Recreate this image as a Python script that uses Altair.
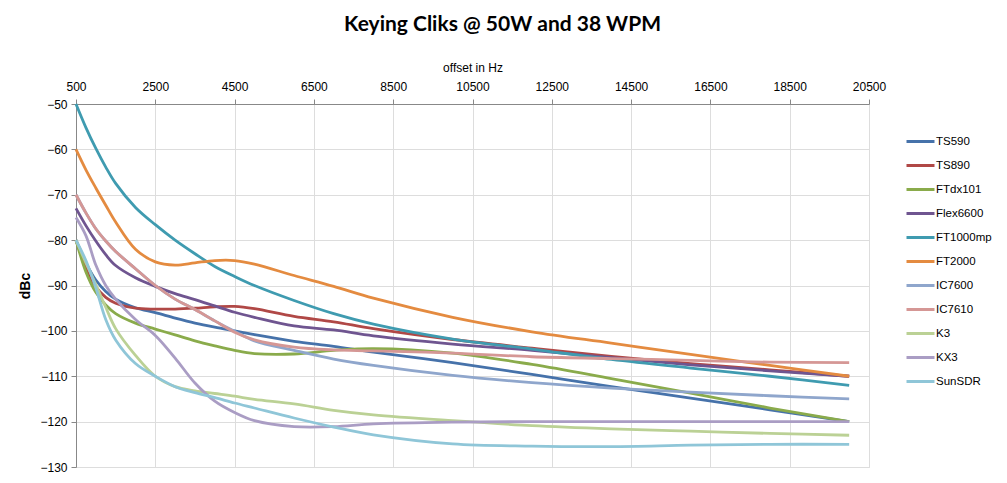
import altair as alt
import pandas as pd

series = ["TS590", "TS890", "FTdx101", "Flex6600", "FT1000mp", "FT2000",
          "IC7600", "IC7610", "K3", "KX3", "SunSDR"]
colors = ["#4672AA", "#B04846", "#8AAB4B", "#6F5590", "#3F9BB0", "#E48B40",
          "#8FA6CC", "#D59795", "#BBD195", "#AA9DC4", "#8FC6D8"]

offsets = [500, 750, 1000, 1250, 1500, 2000, 2500, 3000, 3500, 4000, 4500, 5000,
           6000, 7000, 8000, 10000, 12000, 14000, 16000, 18000, 20000]

TS590 = [-80, -85, -88.8, -91.3, -93, -94.9, -96, -97.2, -98.3, -99.2, -100, -100.8,
         -102.3, -103.4, -104.7, -107, -109.6, -112.3, -114.8, -117.4, -120]
TS890 = [-80, -86, -90.3, -92.6, -93.9, -95, -95.2, -95.2, -95, -94.7, -94.6, -95.1,
         -96.8, -98, -99.5, -101.9, -103.8, -105.6, -107.2, -108.6, -110]
FTdx101 = [-80, -87, -91.5, -94.3, -96.2, -98.3, -99.6, -100.9, -102.2, -103.3, -104.3, -105,
           -105.1, -104.3, -103.9, -104.9, -107.4, -110.5, -113.7, -117, -120]
Flex6600 = [-73, -76.8, -80.2, -83.2, -85.6, -88.3, -90.2, -91.8, -93.1, -94.5, -95.9, -97,
            -98.9, -99.8, -101.1, -102.9, -104.3, -105.9, -107.5, -108.8, -110]
FT1000mp = [-50, -55.2, -59.8, -63.9, -67.5, -72.8, -76.6, -80, -83, -85.8, -88, -90,
            -93.3, -96.2, -98.5, -101.8, -104, -106.3, -108.2, -110, -112]
FT2000 = [-60, -64.5, -68.5, -72.3, -76, -82, -84.8, -85.5, -85, -84.5, -84.5, -85.3,
          -87.8, -90.2, -92.8, -97, -100.2, -102.7, -105.2, -107.6, -110]
IC7600 = [-70, -74, -77.5, -80.2, -82.5, -86.3, -90, -93, -95.3, -97.8, -100.1, -102.2,
          -104.3, -106.2, -107.6, -109.8, -111.4, -112.6, -113.5, -114.3, -115]
IC7610 = [-70, -74, -77.5, -80.2, -82.5, -86.3, -90, -93, -95.3, -97.8, -100.3, -102,
          -103.6, -104.2, -104.4, -104.9, -105.7, -106.1, -106.5, -106.9, -107]
K3 = [-80, -85, -89.8, -94.8, -99.5, -105.4, -110, -112.3, -113.2, -113.8, -114.4, -115.1,
      -116.1, -117.5, -118.5, -119.8, -120.9, -121.6, -122.1, -122.6, -123]
KX3 = [-75, -79, -85.5, -90, -93, -97.5, -101, -106, -111.5, -115.5, -118, -119.8,
       -121.1, -121.1, -120.5, -120.1, -120, -120, -120, -120, -120]
SunSDR = [-80, -84.5, -90.5, -97.5, -102, -107.2, -110, -112.3, -113.6, -114.7, -115.9, -117,
          -119.2, -121.2, -122.9, -124.9, -125.4, -125.5, -125.2, -125, -125]

x_ticks = [500, 2500, 4500, 6500, 8500, 10500, 12500, 14500, 16500, 18500, 20500]
y_ticks = [-50, -60, -70, -80, -90, -100, -110, -120, -130]

values = [TS590, TS890, FTdx101, Flex6600, FT1000mp, FT2000,
          IC7600, IC7610, K3, KX3, SunSDR]
rows = []
for i, (name, vals) in enumerate(zip(series, values)):
    for hz, db in zip(offsets, vals):
        rows.append({"series": name, "order": i, "hz": hz, "db": db})
df = pd.DataFrame(rows)

FONT = "Lato"
GRID = "#7F7F7F"

chart = alt.Chart(df).mark_line(
    interpolate="catmull-rom", strokeWidth=2.8
).encode(
    x=alt.X("hz:Q",
            scale=alt.Scale(domain=[500, 20500], nice=False, zero=False),
            axis=alt.Axis(orient="top", values=x_ticks, title="offset in Hz",
                          format="d", labelFontSize=12, titleFontSize=12,
                          titleFontWeight="normal", titlePadding=6,
                          labelPadding=6, tickSize=5, grid=True,
                          labelFlush=False)),
    y=alt.Y("db:Q",
            scale=alt.Scale(domain=[-130, -50], nice=False, zero=False),
            axis=alt.Axis(values=y_ticks, title="dBc", labelFontSize=12,
                          titleFontSize=14, titleFontWeight="bold",
                          titlePadding=7, labelPadding=4, tickSize=5, grid=True,
                          labelFlush=False)),
    color=alt.Color("series:N",
                    scale=alt.Scale(domain=series, range=colors),
                    sort=series,
                    legend=alt.Legend(title=None, orient="none",
                                      legendX=829, legendY=22,
                                      symbolType="stroke", symbolSize=784,
                                      symbolStrokeWidth=3, labelFontSize=11.5,
                                      labelOffset=0, rowPadding=2, padding=0)),
    detail="series:N",
    order="order:Q",
).properties(
    width=793, height=363,
    title=alt.Title("Keying Cliks @ 50W and 38 WPM", fontSize=21,
                    fontWeight="bold", font=FONT, anchor="middle",
                    dx=30, offset=26, color="black"),
    padding={"left": 68, "top": 96, "right": 130, "bottom": 8},
    autosize=alt.AutoSizeParams(type="none"),
).configure_axis(
    gridColor=GRID, gridWidth=1, gridOpacity=1,
    domainColor=GRID, domainWidth=1, tickColor=GRID, tickWidth=1,
    labelFont=FONT, titleFont=FONT, labelColor="black", titleColor="black",
).configure_legend(
    labelFont=FONT, labelColor="black",
).configure_view(
    stroke=GRID, strokeWidth=1,
).configure(background="white")

chart.save("out.html", embed_options={"renderer": "svg", "actions": False})
